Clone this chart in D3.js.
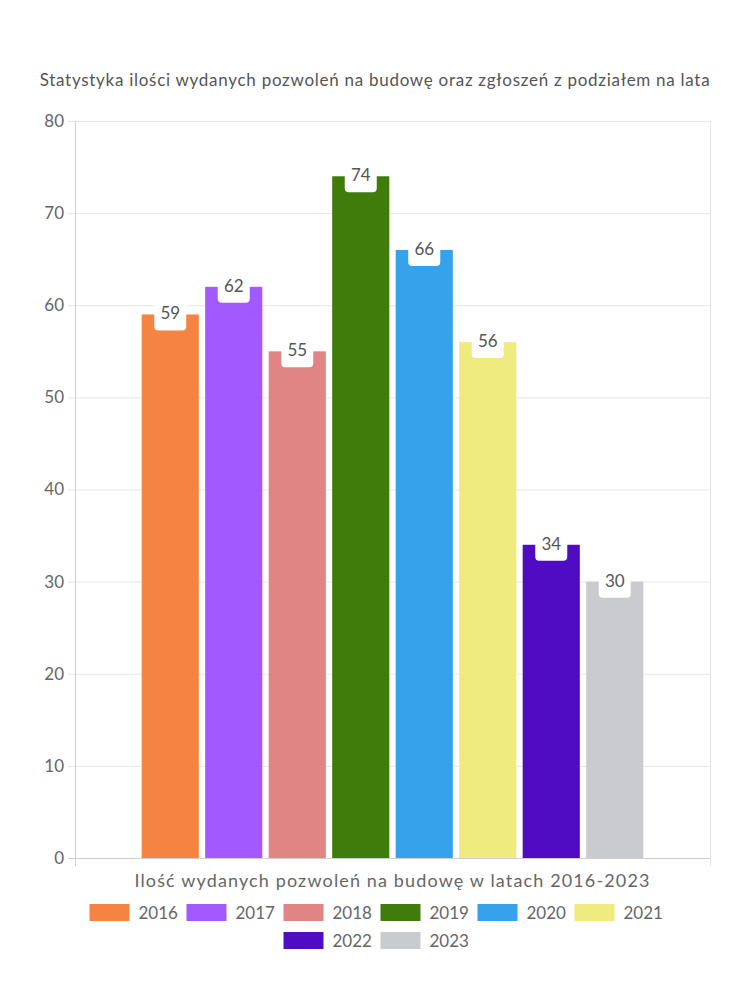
<!DOCTYPE html>
<html><head><meta charset="utf-8">
<script src="https://cdn.jsdelivr.net/npm/d3@7"></script>
<style>body{margin:0;background:#fff}svg{display:block}text{font-family:Lato,"Open Sans",sans-serif}</style>
</head><body>
<svg id="c" width="750" height="1000"></svg>
<script>
const title = "Statystyka ilości wydanych pozwoleń na budowę oraz zgłoszeń z podziałem na lata";
const category = ["Ilość wydanych pozwoleń na budowę w latach 2016-2023"];
const years = ["2016","2017","2018","2019","2020","2021","2022","2023"];
const values = [59, 62, 55, 74, 66, 56, 34, 30];
const colors = ["#F58442","#A259FF","#E08484","#3F7C0B","#36A2EB","#F0EB7E","#500CC2","#C9CBCF"];
const yTicks = [0,10,20,30,40,50,60,70,80];

const svg = d3.select("#c");
const L = 75, R = 710, T = 121, B = 858;

const y = d3.scaleLinear().domain([0,80]).range([B,T]);
const x0 = d3.scaleBand().domain(category).range([L,R]).paddingInner(0).paddingOuter(0.125);
const x1 = d3.scaleBand().domain(years).range([0,x0.bandwidth()]).paddingInner(0.1).paddingOuter(0.05);

function spreadText(sel, w, size){
  sel.attr("font-size", size);
  const n = sel.text().length;
  const len = sel.node().getComputedTextLength();
  sel.attr("letter-spacing", (w-len)/(n-1));
}

// title
spreadText(svg.append("text").attr("x",(40+710)/2).attr("y",86).attr("text-anchor","middle")
  .attr("fill","#555").text(title), 670, 17);

// grid
const g = svg.append("g");
g.selectAll("line.h").data(yTicks).join("line")
  .attr("x1",L-7).attr("x2",R).attr("y1",d=>y(d)+0.5).attr("y2",d=>y(d)+0.5)
  .attr("stroke",d=>d===0?"#cfcfcf":"#e6e6e6");
g.append("line").attr("x1",L+0.5).attr("x2",L+0.5).attr("y1",T).attr("y2",B+8).attr("stroke","#cfcfcf");
g.append("line").attr("x1",R+0.5).attr("x2",R+0.5).attr("y1",T).attr("y2",B+8).attr("stroke","#e6e6e6");

// y axis labels
const yAxis = d3.axisLeft(y).tickValues(yTicks).tickSize(0).tickPadding(11);
const ya = svg.append("g").attr("transform",`translate(${L},0)`).call(yAxis);
ya.select(".domain").remove();
ya.selectAll("text").attr("font-size",17).attr("fill","#666").attr("font-family","Lato,sans-serif");

// bars
const bars = svg.append("g").attr("transform",`translate(${x0(category[0])},0)`);
bars.selectAll("rect").data(values).join("rect")
  .attr("x",(d,i)=>x1(years[i])).attr("width",x1.bandwidth())
  .attr("y",d=>y(d)).attr("height",d=>B-y(d))
  .attr("fill",(d,i)=>colors[i]);

// data labels
const lab = bars.selectAll("g.lab").data(values).join("g")
  .attr("transform",(d,i)=>`translate(${x1(years[i])+x1.bandwidth()/2},${y(d)})`);
lab.append("rect").attr("x",-16).attr("y",-16).attr("width",32).attr("height",32).attr("rx",4).attr("fill","#fff");
lab.append("text").attr("text-anchor","middle").attr("y",5).attr("font-size",17).attr("fill","#555").text(d=>d);

// x axis title
spreadText(svg.append("text").attr("x",(135+650)/2).attr("y",887).attr("text-anchor","middle")
  .attr("fill","#666").text(category[0]), 515, 18);

// legend
const rows = [years.slice(0,6), years.slice(6)];
const itemW = 40 + 9 + 37 + 11;
rows.forEach((row,ri)=>{
  const total = row.length*itemW - 11;
  const sx = 375 - total/2;
  const yy = 904 + ri*28;
  row.forEach((yr,j)=>{
    const i = years.indexOf(yr);
    const gx = sx + j*itemW;
    svg.append("rect").attr("x",gx).attr("y",yy).attr("width",40).attr("height",17).attr("fill",colors[i]);
    svg.append("text").attr("x",gx+49).attr("y",yy+15).attr("font-size",17).attr("fill","#666").text(yr);
  });
});
</script>
</body></html>
